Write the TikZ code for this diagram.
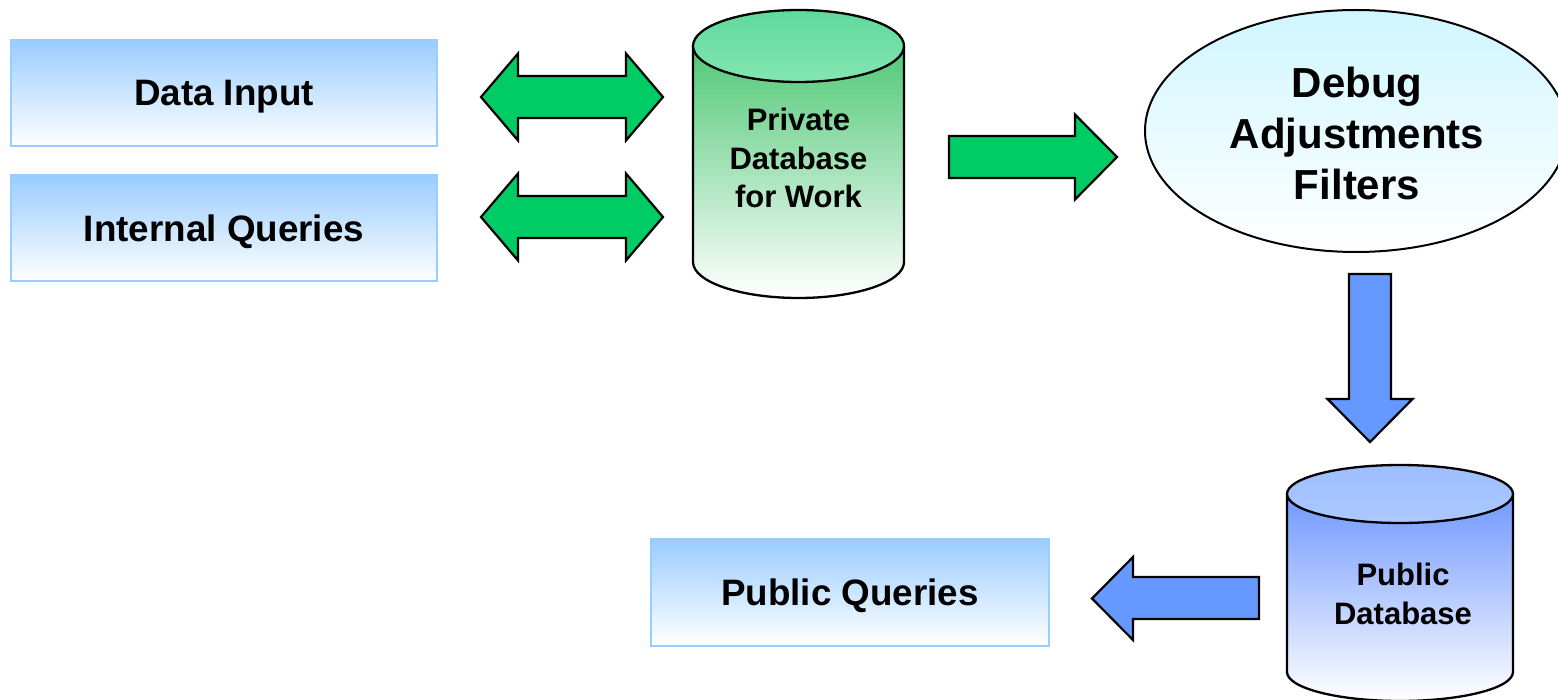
\documentclass[tikz,border=0pt]{standalone}
\usepackage{fontspec}
\setmainfont{Liberation Sans}
\usetikzlibrary{shapes.geometric}

\definecolor{panelblue}{RGB}{153,204,255}
\definecolor{flowgreen}{RGB}{0,204,102}
\definecolor{flowblue}{RGB}{102,153,255}
\definecolor{filtercyan}{RGB}{208,246,255}
\definecolor{privtop}{RGB}{80,200,118}
\definecolor{privmid}{RGB}{196,236,206}
\definecolor{privlidA}{RGB}{95,217,155}
\definecolor{privlidB}{RGB}{132,230,178}
\definecolor{pubtop}{RGB}{112,152,255}
\definecolor{pubmid}{RGB}{198,214,255}
\definecolor{publidA}{RGB}{158,190,255}
\definecolor{publidB}{RGB}{172,200,255}

\tikzset{
  panel/.style={draw=panelblue, line width=2pt, top color=panelblue, bottom color=white,
    inner sep=0pt, text depth=0pt, font=\fontsize{36.8}{44}\selectfont\bfseries},
  blockarrow/.style={draw=black, line width=2.2pt, line join=miter},
  dblabel/.style={align=center, inner sep=0pt, font=\fontsize{31}{38.5}\selectfont\bfseries},
  outline/.style={draw=black, line width=2.3pt},
}

\begin{document}
\begin{tikzpicture}[x=1pt, y=-1pt]
\useasboundingbox (0,0) rectangle (1558,700);

% input panels
\node[panel, minimum width=426pt, minimum height=106pt] (input) at (224,93) {Data Input};
\node[panel, minimum width=426pt, minimum height=106pt] (internal) at (224,228) {Internal Queries};
\node[panel, minimum width=398pt, minimum height=107pt] (public) at (850,592) {Public Queries};

% private working database (cylinder)
\path[top color=privtop, middle color=privmid, bottom color=white]
  (693,46) -- (693,262) arc[start angle=180, end angle=0, x radius=105.5, y radius=36]
  -- (904,46) -- cycle;
\draw[outline] (693,46) -- (693,262) arc[start angle=180, end angle=0, x radius=105.5, y radius=36]
  -- (904,46);
\draw[outline, top color=privlidA, bottom color=privlidB] (798.5,46) ellipse[x radius=105.5, y radius=36];
\node[dblabel] (privdb) at (798.5,158) {Private\\Database\\for Work};

% public database (cylinder)
\path[top color=pubtop, middle color=pubmid, bottom color=white]
  (1287,494) -- (1287,672) arc[start angle=180, end angle=0, x radius=113, y radius=29]
  -- (1513,494) -- cycle;
\draw[outline] (1287,494) -- (1287,672) arc[start angle=180, end angle=0, x radius=113, y radius=29]
  -- (1513,494);
\draw[outline, top color=publidA, bottom color=publidB] (1400,494) ellipse[x radius=113, y radius=29];
\node[dblabel] (pubdb) at (1403,594) {Public\\Database};

% processing stage
\node[ellipse, draw=black, line width=2pt, top color=filtercyan, bottom color=white,
      minimum width=422pt, minimum height=242pt, inner sep=0pt] (filter) at (1356,131) {};
\node[align=center, inner sep=0pt, font=\fontsize{42}{51}\selectfont\bfseries] (filterlbl)
  at (1357,133) {Debug\\Adjustments\\Filters};

% two-way exchanges with the private database
\draw[blockarrow, fill=flowgreen]
  (481,97) -- (518,53.5) -- (518,76) -- (626,76) -- (626,53.5) -- (663,97)
  -- (626,140.5) -- (626,118) -- (518,118) -- (518,140.5) -- cycle;
\draw[blockarrow, fill=flowgreen]
  (481,217) -- (518,173.5) -- (518,196) -- (626,196) -- (626,173.5) -- (663,217)
  -- (626,260.5) -- (626,238) -- (518,238) -- (518,260.5) -- cycle;

% private database -> filters
\draw[blockarrow, fill=flowgreen]
  (949,136) -- (1075,136) -- (1075,114.5) -- (1117,157) -- (1075,199.5)
  -- (1075,178) -- (949,178) -- cycle;

% filters -> public database
\draw[blockarrow, fill=flowblue]
  (1349,274) -- (1391,274) -- (1391,399) -- (1412.5,399) -- (1370,442)
  -- (1327.5,399) -- (1349,399) -- cycle;

% public database -> public queries
\draw[blockarrow, fill=flowblue]
  (1259,577) -- (1259,619) -- (1133,619) -- (1133,640) -- (1092,598.5)
  -- (1133,557) -- (1133,577) -- cycle;
\end{tikzpicture}
\end{document}
